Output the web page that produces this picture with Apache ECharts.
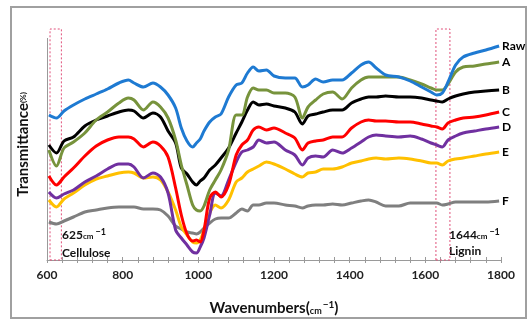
<!DOCTYPE html>
<html>
<head>
<meta charset="utf-8">
<script src="https://cdn.jsdelivr.net/npm/echarts@6/dist/echarts.min.js"></script>
<style>
  html, body { margin: 0; padding: 0; background: #fff; }
  #chart { width: 530px; height: 321px; }
</style>
</head>
<body>
<div id="chart"></div>
<script>
// wavenumber grid (cm-1) shared by all spectra
const wavenumbers = [605,625,645,670,700,730,760,790,815,830,855,880,900,920,940,955,970,985,995,1005,1015,1030,1045,1060,1080,1100,1115,1130,1145,1160,1180,1200,1230,1255,1275,1290,1310,1330,1355,1380,1405,1430,1450,1470,1495,1530,1560,1590,1615,1630,1645,1660,1680,1700,1730,1760,1795]

// transmittance (arbitrary offset units)
const rawVals = [145,142,149,155,161,166,171,177,180,177,173,177,173,165,152,132,119,113,117,121,129,138,143,146,163,175,177,187,193,189,190,184,182,182,173,175,181,178,180,180,187,195,198,192,185,183,179,173,168,165,167,178,195,203,207,210,214]
const aVals = [110,94,112,118,127,140,148,157,162,160,150,158,153,142,120,95,75,55,50,49,54,70,80,90,110,145,145,163,172,170,170,167,167,163,142,153,160,166,168,161,172,180,183,183,183,183,180,176,172,170,170,176,188,193,194,196,198]
const bVals = [115,107,119,123,134,140,144,148,150,149,142,147,143,129,117,92,86,78,75,79,82,90,95,102,112,127,138,150,158,155,156,154,152,148,136,144,146,148,150,150,157,161,163,163,164,163,163,162,160,159,158,161,164,166,168,169,170]
const cVals = [84,75,83,92,104,114,120,123,123,121,113,118,114,103,72,45,26,19,20,18,30,62,68,63,75,105,115,120,130,133,130,132,127,122,110,117,119,120,123,123,132,138,140,139,139,138,138,136,134,133,131,137,140,142,143,145,148]
const dVals = [68,62,66,70,78,84,91,96,96,93,82,87,83,67,30,22,15,8,7,13,22,45,67,64,80,98,108,110,113,120,117,118,110,105,95,102,104,103,110,107,112,118,123,125,124,123,124,121,117,115,113,120,124,127,129,131,133]
const eVals = [60,53,61,67,75,81,84,87,88,87,82,83,80,68,50,33,25,18,17,20,30,47,55,52,60,78,82,88,91,94,98,96,91,86,83,87,88,91,91,93,97,99,101,102,101,102,101,99,97,97,95,99,101,102,104,106,108]
const fVals = [38,36,39,43,48,50,52,53,53,53,51,51,50,44,34,31,28,27,26,28,32,37,41,42,42,47,51,49,55,55,57,57,55,54,52,54,55,55,56,55,57,59,60,58,54,54,57,57,57,57,55,56,58,58,58,58,59]

const seriesNames = ['Raw', 'A', 'B', 'C', 'D', 'E', 'F']
const seriesVals = [rawVals, aVals, bVals, cVals, dVals, eVals, fVals]
const seriesColors = ['#1e7ad2', '#77933c', '#000000', '#ff0000', '#7030a0', '#ffc000', '#7f7f7f']

// highlighted bands
const bands = [[608, 638], [1628, 1665]]

const labelFont = 'Lato, "Liberation Sans", sans-serif'

const chart = echarts.init(document.getElementById('chart'))

const series = seriesNames.map((name, i) => ({
  name: name,
  type: 'line',
  data: wavenumbers.map((w, j) => [w, seriesVals[i][j]]),
  showSymbol: false,
  smooth: 0.3,
  lineStyle: { width: 3, color: seriesColors[i] },
  itemStyle: { color: seriesColors[i] },
  z: 10 - i,
  endLabel: {
    show: true,
    formatter: '{a}',
    color: '#000',
    fontWeight: 'bold',
    fontSize: 12,
    fontFamily: labelFont,
    distance: 3
  }
}))

// dashed boxes + the y axis line
series[0].markArea = {
  silent: true,
  itemStyle: {
    color: 'rgba(0,0,0,0)',
    borderColor: '#e0507a',
    borderWidth: 1,
    borderType: [2, 2]
  },
  data: bands.map(b => [{ xAxis: b[0], yAxis: 0 }, { xAxis: b[1], yAxis: 231 }])
}
series[0].markLine = {
  silent: true,
  symbol: 'none',
  label: { show: false },
  lineStyle: { color: '#9a9a9a', width: 1, type: 'solid' },
  data: [[{ coord: [600, 0] }, { coord: [600, 222] }]]
}

const option = {
  animation: false,
  backgroundColor: '#fff',
  grid: { left: 47, right: 29, top: 29, bottom: 61 },
  xAxis: [
    {
      type: 'value',
      min: 600,
      max: 1800,
      interval: 200,
      name: '{t|Wavenumbers(}{s|cm}{p|−1}{t|)}',
      nameLocation: 'middle',
      nameGap: 40,
      nameTextStyle: {
        rich: {
          t: { fontSize: 15, fontWeight: 'bold', color: '#111', fontFamily: labelFont },
          s: { fontSize: 9, fontWeight: 'bold', color: '#111', fontFamily: labelFont, verticalAlign: 'bottom', padding: [4, 0, 0, 0] },
          p: { fontSize: 10, fontWeight: 'bold', color: '#111', fontFamily: labelFont, padding: [0, 0, 6, 1] }
        }
      },
      axisLine: { show: true, lineStyle: { color: '#9a9a9a', width: 1 } },
      axisTick: { show: true, length: 3, lineStyle: { color: '#9a9a9a' } },
      minorTick: { show: true, splitNumber: 5, length: 3, lineStyle: { color: '#9a9a9a' } },
      axisLabel: {
        color: '#222', fontWeight: 'bold', fontSize: 12, fontFamily: labelFont, margin: 9,
        formatter: v => String(v)
      },
      splitLine: { show: false }
    },
    {
      type: 'value',
      min: 600,
      max: 1800,
      interval: 200,
      position: 'bottom',
      axisLine: { show: false },
      axisTick: { show: true, inside: true, length: 3, lineStyle: { color: '#9a9a9a' } },
      minorTick: { show: true, splitNumber: 5, length: 3, lineStyle: { color: '#9a9a9a' } },
      axisLabel: { show: false },
      splitLine: { show: false }
    }
  ],
  yAxis: {
    type: 'value',
    min: 0,
    max: 231,
    name: '{t|Transmittance}{s|(%)}',
    nameLocation: 'middle',
    nameGap: 16,
    nameTextStyle: {
      rich: {
        t: { fontSize: 15, fontWeight: 'bold', color: '#111', fontFamily: labelFont },
        s: { fontSize: 8, fontWeight: 'bold', color: '#111', fontFamily: labelFont }
      }
    },
    axisLine: { show: false },
    axisTick: { show: false },
    axisLabel: { show: false },
    splitLine: { show: false }
  },
  graphic: [
    {
      type: 'rect',
      shape: { x: 11, y: 7, width: 515, height: 311 },
      style: { fill: 'none', stroke: '#a0a0a0', lineWidth: 2 },
      silent: true
    },
    {
      type: 'text', left: 62, top: 228,
      style: {
        text: '{n|625}{s|cm}{p|−1}',
        rich: {
          n: { fontSize: 12, fontWeight: 'bold', fill: '#111', fontFamily: labelFont },
          s: { fontSize: 8, fontWeight: 'bold', fill: '#111', fontFamily: labelFont, padding: [3, 0, 0, 0] },
          p: { fontSize: 9, fontWeight: 'bold', fill: '#111', fontFamily: labelFont, padding: [0, 0, 5, 2] }
        }
      }
    },
    {
      type: 'text', left: 62, top: 247,
      style: { text: 'Cellulose', fontSize: 12, fontWeight: 'bold', fill: '#111', fontFamily: labelFont }
    },
    {
      type: 'text', left: 449, top: 228,
      style: {
        text: '{n|1644}{s|cm}{p|−1}',
        rich: {
          n: { fontSize: 12, fontWeight: 'bold', fill: '#111', fontFamily: labelFont },
          s: { fontSize: 8, fontWeight: 'bold', fill: '#111', fontFamily: labelFont, padding: [3, 0, 0, 0] },
          p: { fontSize: 9, fontWeight: 'bold', fill: '#111', fontFamily: labelFont, padding: [0, 0, 5, 2] }
        }
      }
    },
    {
      type: 'text', left: 449, top: 245,
      style: { text: 'Lignin', fontSize: 12, fontWeight: 'bold', fill: '#111', fontFamily: labelFont }
    }
  ],
  series: series
}

chart.setOption(option)
</script>
</body>
</html>
